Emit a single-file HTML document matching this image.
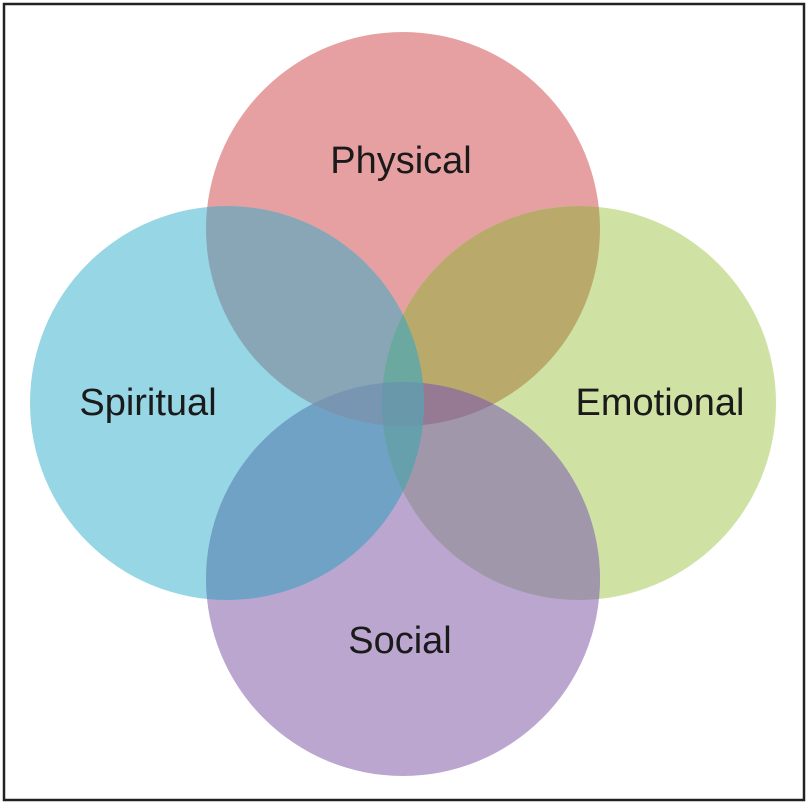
<!DOCTYPE html>
<html><head><style>
html,body{margin:0;padding:0;background:#fff}
svg{display:block}
text{font-family:"Liberation Sans",sans-serif;font-size:38px;fill:#1a1a1a}
</style></head><body>
<svg width="808" height="804" viewBox="0 0 808 804">
<defs>
<clipPath id="cP"><circle cx="403" cy="229" r="197"/></clipPath>
<clipPath id="cSp"><circle cx="227" cy="403" r="197"/></clipPath>
<clipPath id="cE"><circle cx="579" cy="403" r="197"/></clipPath>
<clipPath id="cSo"><circle cx="403" cy="579" r="197"/></clipPath>
</defs>
<rect x="4" y="4" width="800" height="796" fill="#fff" stroke="#222" stroke-width="2.5"/>
<circle cx="403" cy="229" r="197" fill="#e6a0a2"/>
<circle cx="227" cy="403" r="197" fill="#97d6e4"/>
<circle cx="579" cy="403" r="197" fill="#cfe2a3"/>
<circle cx="403" cy="579" r="197" fill="#bba6d0"/>
<g clip-path="url(#cP)"><circle cx="227" cy="403" r="197" fill="#88a6b6"/></g>
<g clip-path="url(#cP)"><circle cx="579" cy="403" r="197" fill="#b9aa6c"/></g>
<g clip-path="url(#cSo)"><circle cx="227" cy="403" r="197" fill="#70a2c6"/></g>
<g clip-path="url(#cSo)"><circle cx="579" cy="403" r="197" fill="#a098aa"/></g>
<g clip-path="url(#cP)"><g clip-path="url(#cSo)"><rect x="0" y="0" width="808" height="804" fill="#7896b2"/></g></g>
<g clip-path="url(#cP)"><g clip-path="url(#cSo)"><circle cx="579" cy="403" r="197" fill="#967a94"/></g></g>
<g clip-path="url(#cSp)"><g clip-path="url(#cE)"><rect x="0" y="0" width="808" height="804" fill="#6aa8a0"/></g></g>
<g clip-path="url(#cSp)"><g clip-path="url(#cE)"><circle cx="403" cy="579" r="197" fill="#66a0ac"/></g></g>
<g clip-path="url(#cSp)"><g clip-path="url(#cE)"><g clip-path="url(#cSo)"><circle cx="403" cy="229" r="197" fill="#6898aa"/></g></g></g>
<text x="401" y="173" text-anchor="middle">Physical</text>
<text x="148" y="415" text-anchor="middle">Spiritual</text>
<text x="660" y="415" text-anchor="middle">Emotional</text>
<text x="400" y="653" text-anchor="middle">Social</text>
</svg>
</body></html>
